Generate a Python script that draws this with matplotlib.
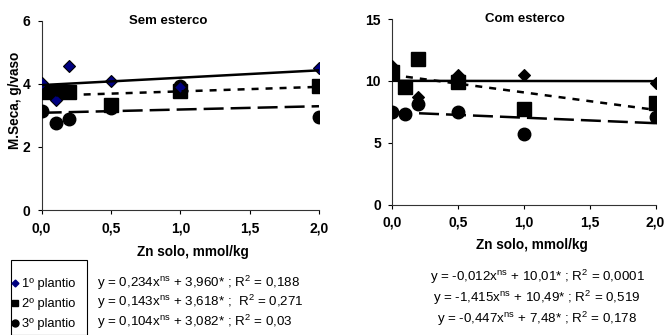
import matplotlib
matplotlib.use('Agg')
import matplotlib.pyplot as plt
from matplotlib.lines import Line2D
from matplotlib.patches import Rectangle
import numpy as np

plt.rcParams['font.family'] = ['Liberation Sans', 'DejaVu Sans']
plt.rcParams['mathtext.default'] = 'regular'

zn = [0.0, 0.1, 0.2, 0.5, 1.0, 2.0]

# Sem esterco
sem_p1 = [4.03, 3.49, 4.58, 4.09, 3.90, 4.49]
sem_p2 = [3.73, 3.73, 3.73, 3.33, 3.78, 3.94]
sem_p3 = [3.14, 2.75, 2.87, 3.22, 3.93, 2.94]
sem_slope = [0.234, 0.143, 0.104]
sem_icpt = [3.960, 3.618, 3.082]
sem_eq = [r'y = 0,234x$^{ns}$ + 3,960* ; R$^2$ = 0,188',
          r'y = 0,143x$^{ns}$ + 3,618* ;  R$^2$ = 0,271',
          r'y = 0,104x$^{ns}$ + 3,082* ; R$^2$ = 0,03']

# Com esterco
com_p1 = [11.2, 9.5, 8.73, 10.48, 10.48, 9.80]
com_p2 = [10.75, 9.48, 11.74, 9.88, 7.73, 8.24]
com_p3 = [7.46, 7.33, 8.10, 7.46, 5.71, 7.11]
com_slope = [-0.012, -1.415, -0.447]
com_icpt = [10.01, 10.49, 7.48]
com_eq = [r'y = -0,012x$^{ns}$ + 10,01* ; R$^2$ = 0,0001',
          r'y = -1,415x$^{ns}$ + 10,49* ; R$^2$ = 0,519',
          r'y = -0,447x$^{ns}$ + 7,48* ; R$^2$ = 0,178']

labels = ['1º plantio', '2º plantio', '3º plantio']
xticks = [0.0, 0.5, 1.0, 1.5, 2.0]
xticklabels = ['0,0', '0,5', '1,0', '1,5', '2,0']

line_styles = [dict(ls='-'), dict(ls=(0, (2.8, 2.8))), dict(ls=(0, (8, 2.8)))]

W, H = 669, 335
fig = plt.figure(figsize=(6.69, 3.35), dpi=100)
ax1 = fig.add_axes([0.0623, 0.3731, 0.4145, 0.565])
ax2 = fig.add_axes([0.586, 0.389, 0.394, 0.554])


def draw(ax, p1, p2, p3, slopes, icpts, ymax, yticks, title, tx, xlx, xly, diamond_color):
    ax.plot(zn, p3, 'o', color='black', ms=9, zorder=3)
    ax.plot(zn, p2, 's', color='black', ms=9.5, zorder=3)
    ax.plot(zn, p1, 'D', mfc=diamond_color, mec='black', mew=0.8, ms=6.5, zorder=3)
    xs = np.array([0.0, 2.0])
    for s, b, st in zip(slopes, icpts, line_styles):
        ax.plot(xs, s * xs + b, color='black', lw=1.8, zorder=4, **st)
    ax.set_xlim(0, 2.0)
    ax.set_ylim(0, ymax)
    ax.set_xticks(xticks)
    ax.set_xticklabels(xticklabels)
    ax.set_yticks(yticks)
    for sp in ['top', 'right']:
        ax.spines[sp].set_visible(False)
    for sp in ['left', 'bottom']:
        ax.spines[sp].set_linewidth(0.8)
        ax.spines[sp].set_color('#333333')
    ax.tick_params(direction='out', length=3, width=0.8, labelsize=10, pad=5)
    for lab in ax.get_xticklabels() + ax.get_yticklabels():
        lab.set_fontweight('bold')
    ax.set_xlabel('Zn solo, mmol/kg', fontsize=9.8, fontweight='bold')
    ax.xaxis.set_label_coords(xlx, xly)
    ax.xaxis.label.set_va('center')
    ax.text(tx, 1.0, title, transform=ax.transAxes, ha='center', va='center',
            fontsize=9.5, fontweight='bold')


draw(ax1, sem_p1, sem_p2, sem_p3, sem_slope, sem_icpt, 6, [0, 2, 4, 6],
     'Sem esterco', 0.455, 0.544, -0.222, '#000080')
draw(ax2, com_p1, com_p2, com_p3, com_slope, com_icpt, 15, [0, 5, 10, 15],
     'Com esterco', 0.505, 0.531, -0.217, 'black')
ax1.set_ylabel('M.Seca, g/vaso', fontsize=9.8, fontweight='bold')
ax1.yaxis.set_label_coords(-0.096, 0.58)
ax1.yaxis.label.set_va('center')

# legend box (open at the bottom edge of the figure)
fig.patches.append(Rectangle((11 / W, 0), 76 / W, 1 - 260 / H, transform=fig.transFigure,
                             fill=False, edgecolor='black', lw=0.8))
handles = [Line2D([], [], marker='D', ls='', mfc='#000080', mec='#000080', ms=3.5),
           Line2D([], [], marker='s', ls='', color='black', ms=5),
           Line2D([], [], marker='o', ls='', color='black', ms=5)]
leg = fig.legend(handles, labels, loc='upper left', bbox_to_anchor=(12 / W, 1 - 278 / H),
                 frameon=False, fontsize=9.3, handlelength=0.5, handletextpad=0.3,
                 labelspacing=0.62, borderpad=0, borderaxespad=0)

ys = [283, 302, 322]
for eq, y in zip(sem_eq, ys):
    fig.text(97 / W, 1 - y / H, eq, ha='left', va='center', fontsize=9.6)
ys2 = [277, 298, 319]
for eq, y in zip(com_eq, ys2):
    fig.text(537 / W, 1 - y / H, eq, ha='center', va='center', fontsize=9.6)

fig.savefig('out.png', dpi=100)
